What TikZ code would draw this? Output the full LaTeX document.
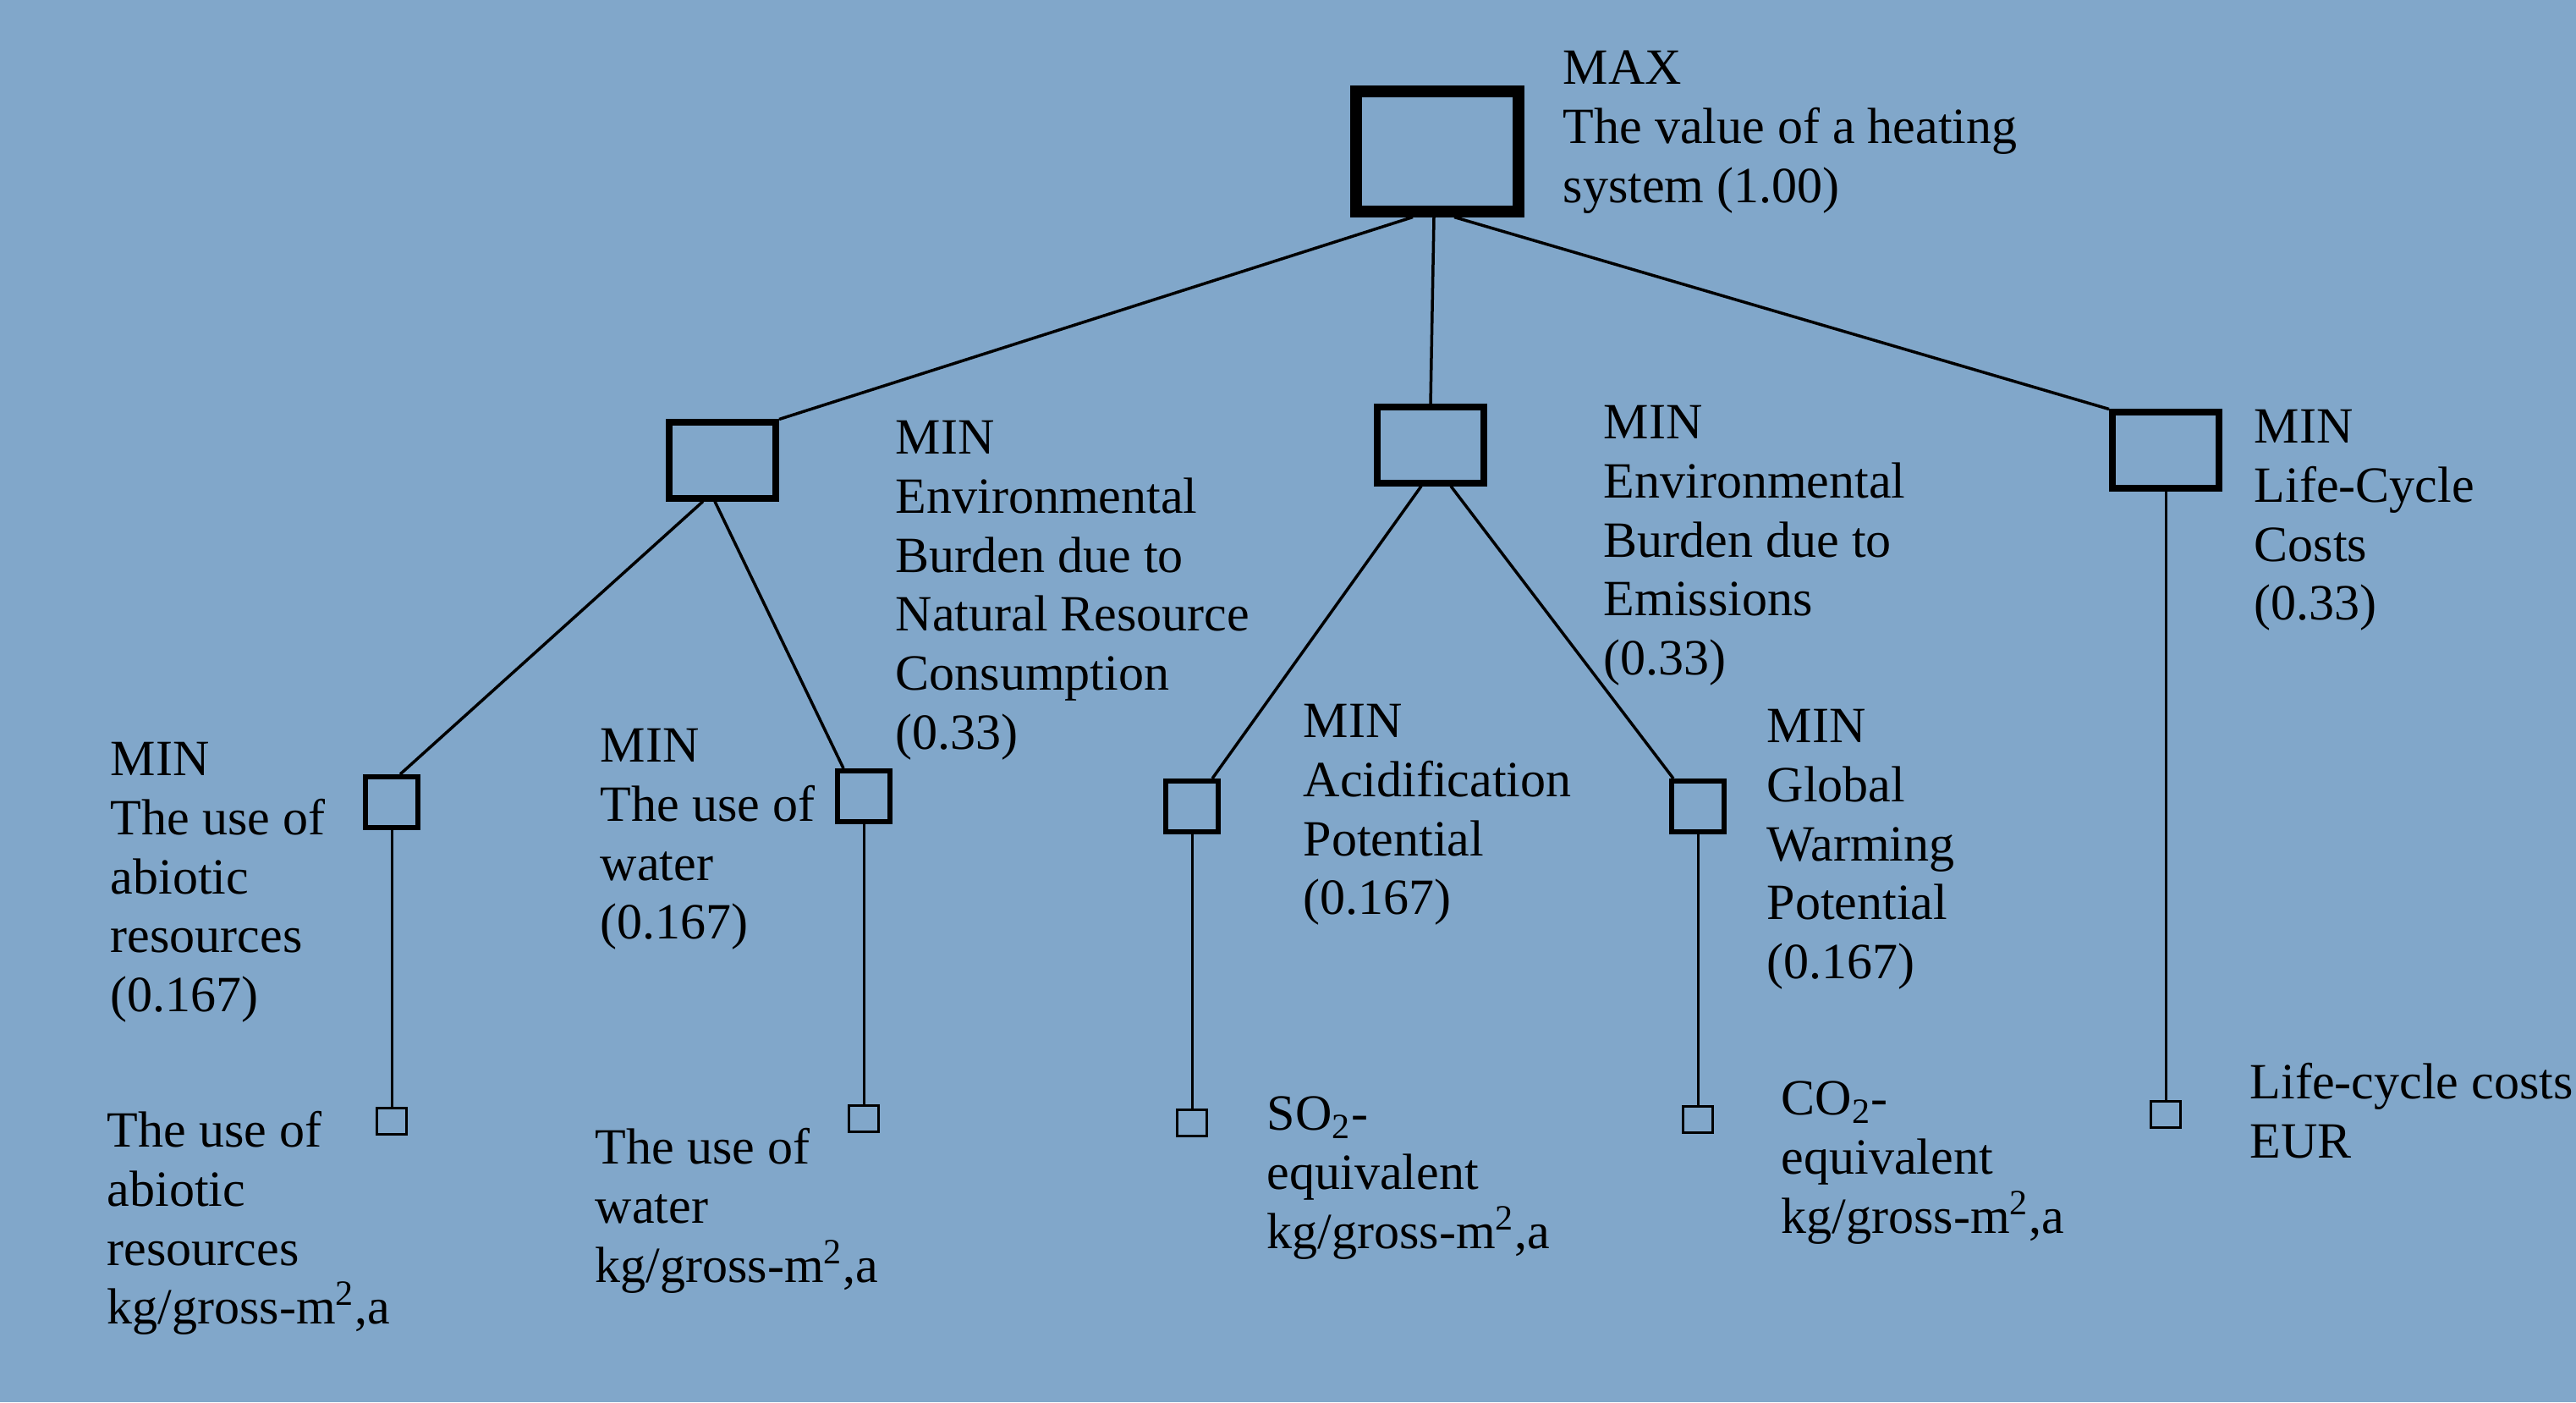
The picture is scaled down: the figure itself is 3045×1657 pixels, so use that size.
\documentclass[tikz,border=0pt]{standalone}
\usepackage{fontspec}
\setmainfont{Liberation Serif}
\usetikzlibrary{calc}
\definecolor{bg}{RGB}{129,167,202}
\tikzset{
  topbox/.style={draw=black, line width=0.14cm, minimum width=1.92cm, minimum height=1.41cm, inner sep=0pt},
  midbox/.style={draw=black, line width=0.08cm, minimum width=1.26cm, minimum height=0.89cm, inner sep=0pt},
  subbox/.style={draw=black, line width=0.06cm, minimum width=0.62cm, minimum height=0.60cm, inner sep=0pt},
  leafbox/.style={draw=black, line width=0.035cm, minimum width=0.35cm, minimum height=0.31cm, inner sep=0pt},
  lbl/.style={anchor=base west, align=left, inner sep=0pt, font=\fontsize{17.07}{19.8}\selectfont},
  conn/.style={draw=black, line width=0.035cm},
  stem/.style={draw=black, line width=0.03cm}
}
\begin{document}
\begin{tikzpicture}[x=0.01cm, y=-0.01cm]
\fill[bg] (0,0) rectangle (3045,1657);
\useasboundingbox (0,0) rectangle (3045,1657);

% boxes
\node[topbox] (top) at (1699,179) {};
\node[midbox] (L) at (854,544) {};
\node[midbox] (M) at (1691,526) {};
\node[midbox] (R) at (2560,532) {};
\node[subbox] (A1) at (463,948) {};
\node[subbox] (A2) at (1021,941) {};
\node[subbox] (A3) at (1409,953) {};
\node[subbox] (A4) at (2007,953) {};
\node[leafbox] (B1) at (463,1325) {};
\node[leafbox] (B2) at (1021,1322) {};
\node[leafbox] (B3) at (1409,1327) {};
\node[leafbox] (B4) at (2007,1323) {};
\node[leafbox] (B5) at (2560,1317) {};

% connectors
\draw[conn] ([xshift=-0.29cm]top.south) -- (L.north east);
\draw[conn] ([xshift=-0.04cm]top.south) -- (M.north);
\draw[conn] ([xshift=0.2cm]top.south) -- (R.north west);
\draw[conn] ([xshift=-0.23cm]L.south) -- ([xshift=0.1cm]A1.north);
\draw[conn] ([xshift=-0.09cm]L.south) -- ([xshift=0.1cm]A2.north west);
\draw[conn] ([xshift=-0.11cm]M.south) -- ([xshift=-0.1cm]A3.north east);
\draw[conn] ([xshift=0.24cm]M.south) -- ([xshift=0.05cm]A4.north west);
\draw[stem] (A1) -- (B1);
\draw[stem] (A2) -- (B2);
\draw[stem] (A3) -- (B3);
\draw[stem] (A4) -- (B4);
\draw[stem] (R) -- (B5);

% labels (anchored at the baseline of their last line)
\node[lbl] (ttop) at (1847,239.2) {MAX\\The value of a heating\\system (1.00)};
\node[lbl] (tL) at (1058,885) {MIN\\Environmental\\Burden due to\\Natural Resource\\Consumption\\(0.33)};
\node[lbl] (tM) at (1895,797.4) {MIN\\Environmental\\Burden due to\\Emissions\\(0.33)};
\node[lbl] (tR) at (2664,732.8) {MIN\\Life-Cycle\\Costs\\(0.33)};
\node[lbl] (tA1) at (130,1195.4) {MIN\\The use of\\abiotic\\resources\\(0.167)};
\node[lbl] (tA2) at (709,1109.8) {MIN\\The use of\\water\\(0.167)};
\node[lbl] (tA3) at (1540,1080.8) {MIN\\Acidification\\Potential\\(0.167)};
\node[lbl] (tA4) at (2088,1156.4) {MIN\\Global\\Warming\\Potential\\(0.167)};
\node[lbl] (tB1) at (126,1564.8) {The use of\\abiotic\\resources\\kg/gross-m\textsuperscript{2},a};
\node[lbl] (tB2) at (703,1515.2) {The use of\\water\\kg/gross-m\textsuperscript{2},a};
\node[lbl] (tB3) at (1497,1475.2) {SO\textsubscript{2}-\\equivalent\\kg/gross-m\textsuperscript{2},a};
\node[lbl] (tB4) at (2105,1457.2) {CO\textsubscript{2}-\\equivalent\\kg/gross-m\textsuperscript{2},a};
\node[lbl] (tB5) at (2659,1368.6) {Life-cycle costs\\EUR};
\end{tikzpicture}
\end{document}
